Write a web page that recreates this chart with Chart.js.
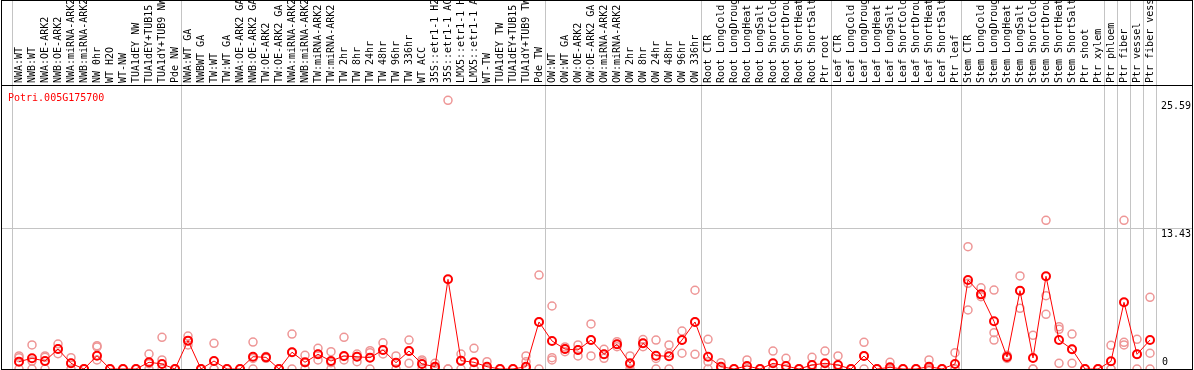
<!DOCTYPE html>
<html>
<head>
<meta charset="utf-8">
<title>Potri.005G175700</title>
<script src="https://cdn.jsdelivr.net/npm/chart.js@4"></script>
<style>
  html, body { margin: 0; padding: 0; background: #fff; }
  #wrap { width: 1194px; height: 370px; position: relative; }
</style>
</head>
<body>
<div id="wrap"><canvas id="chart" width="1194" height="370"></canvas></div>
<script>
// Sample names (x categories)
const samples = [
  'NWA:WT', 'NWB:WT', 'NWA:OE-ARK2', 'NWB:OE-ARK2', 'NWA:miRNA-ARK2', 'NWB:miRNA-ARK2',
  'NW 0hr', 'WT H2O', 'WT-NW', 'TUA1dEY NW', 'TUA1dEY+TUB15 NW', 'TUA1dY+TUB9 NW', 'Pde NW',
  'NWA:WT GA', 'NWBWT GA', 'TW:WT', 'TW:WT GA', 'NWA:OE-ARK2 GA', 'NWB:OE-ARK2 GA',
  'TW:OE-ARK2', 'TW:OE-ARK2 GA', 'NWA:miRNA-ARK2', 'NWB:miRNA-ARK2', 'TW:miRNA-ARK2',
  'TW:miRNA-ARK2', 'TW 2hr', 'TW 8hr', 'TW 24hr', 'TW 48hr', 'TW 96hr', 'TW 336hr', 'WT ACC',
  '35S::etr1-1 H2O', '35S::etr1-1 ACC', 'LMX5::etr1-1 H2O', 'LMX5::etr1-1 ACC', 'WT-TW',
  'TUA1dEY TW', 'TUA1dEY+TUB15 TW', 'TUA1dY+TUB9 TW', 'Pde TW',
  'OW:WT', 'OW:WT GA', 'OW:OE-ARK2', 'OW:OE-ARK2 GA', 'OW:miRNA-ARK2', 'OW:miRNA-ARK2',
  'OW 2hr', 'OW 8hr', 'OW 24hr', 'OW 48hr', 'OW 96hr', 'OW 336hr',
  'Root CTR', 'Root LongCold', 'Root LongDrought', 'Root LongHeat', 'Root LongSalt',
  'Root ShortCold', 'Root ShortDrought', 'Root ShortHeat', 'Root ShortSalt', 'Ptr root',
  'Leaf CTR', 'Leaf LongCold', 'Leaf LongDrought', 'Leaf LongHeat', 'Leaf LongSalt',
  'Leaf ShortCold', 'Leaf ShortDrought', 'Leaf ShortHeat', 'Leaf ShortSalt', 'Ptr leaf',
  'Stem CTR', 'Stem LongCold', 'Stem LongDrought', 'Stem LongHeat', 'Stem LongSalt',
  'Stem ShortCold', 'Stem ShortDrought', 'Stem ShortHeat', 'Stem ShortSalt', 'Ptr shoot',
  'Ptr xylem', 'Ptr phloem', 'Ptr fiber', 'Ptr vessel', 'Ptr fiber vessel'
];

// Mean expression per sample
const meanValues = [
  0.70, 1.02, 0.76, 1.90, 0.54, 0, 1.27, 0, 0, 0, 0.64, 0.48, 0,
  2.70, 0, 0.76, 0, 0, 1.17, 1.11, 0, 1.60, 0.64, 1.40, 0.76, 1.24, 1.17, 1.08, 1.81, 0.60,
  1.71, 0.48, 0.22, 8.54, 0.79, 0.64, 0.22, 0, 0, 0.22, 4.48,
  2.67, 1.90, 1.81, 2.76, 1.40, 2.35, 0.54, 2.45, 1.27, 1.21, 2.76, 4.48,
  1.17, 0.22, 0, 0.29, 0, 0.54, 0.29, 0, 0.38, 0.54,
  0.38, 0, 1.24, 0, 0.16, 0, 0, 0.22, 0, 0.48,
  8.48, 7.11, 4.54, 1.14, 7.46, 1.05, 8.83, 2.76, 1.88, 0,
  0, 0.73, 6.35, 1.40, 2.76
];

// Replicate values (three per sample)
const rep1 = [
  1.24, 2.29, 1.24, 2.38, 1.08, 0, 2.22, 0, 0, 0, 1.43, 3.02, 0,
  3.14, 0, 2.45, 0, 0, 2.57, 1.02, 0, 3.33, 1.30, 1.97, 1.65, 3.02, 1.43, 1.74, 2.50, 1.24,
  2.76, 0.86, 0.54, 25.59, 1.43, 1.97, 0.70, 0, 0, 1.24, 8.95,
  6.00, 1.65, 2.29, 4.29, 1.88, 2.60, 1.24, 2.12, 2.76, 2.29, 3.62, 7.50,
  2.83, 0.60, 0, 0.86, 0, 1.71, 1.02, 0, 1.11, 1.71,
  1.24, 0, 2.54, 0, 0.64, 0, 0, 0.86, 0, 1.55,
  11.65, 7.74, 7.52, 1.30, 8.86, 3.21, 14.16, 4.03, 3.33, 0,
  0, 2.26, 14.16, 2.83, 6.83
];
const rep2 = [
  1.08, 0.76, 1.11, 1.46, 0.54, 0, 2.10, 0, 0, 0, 0.50, 0.86, 0,
  2.29, 0, 0, 0, 0, 1.00, 1.11, 0, 1.60, 0.60, 0.86, 0.60, 0.86, 0.70, 1.55, 1.43, 0.60,
  0.54, 0.70, 0.10, 0, 0.80, 0, 0, 0, 0, 0.70, 4.48,
  1.08, 1.90, 1.24, 1.24, 1.02, 2.12, 0, 2.45, 1.00, 1.50, 1.50, 4.48,
  0.70, 0, 0, 0, 0, 0, 0, 0, 0, 0,
  0, 0, 1.24, 0, 0, 0, 0, 0, 0, 0,
  8.16, 6.89, 3.46, 1.00, 5.78, 0, 6.98, 3.78, 0.54, 0,
  0, 0, 2.54, 0, 1.50
];
const rep3 = [
  0, 0, 0, 1.90, 0, 0, 0.86, 0, 0, 0, 0, 0, 0,
  2.70, 0, 0, 0, 0, 0, 1.20, 0, 0, 0, 1.40, 0, 1.20, 1.20, 0, 1.80, 0,
  1.70, 0, 0, 0, 0, 0, 0, 0, 0, 0, 0,
  0.86, 2.10, 1.80, 2.76, 1.40, 2.35, 0.40, 2.80, 0, 0, 2.76, 1.40,
  0, 0, 0, 0, 0, 0, 0, 0, 0, 0,
  0, 0, 0, 0, 0, 0, 0, 0, 0, 0,
  5.62, 7.11, 2.76, 1.10, 7.46, 0, 5.21, 0.54, 1.88, 0,
  0, 0, 2.29, 1.40, 0
];

// Right-hand tick values and group separators (index of last sample in each group)
const tickValues = [25.59, 13.43, 0];
const groupEnds = [12, 40, 52, 62, 72, 83, 84, 85, 86, 87];
const geneName = 'Potri.005G175700';

const monoFont = '10px "DejaVu Sans Mono", "Liberation Mono", monospace';
const gridGray = '#c4c4c4';
const pink = 'rgb(238,150,150)';

// Plugin that draws the frame, separators, rotated labels and tick text
const decorPlugin = {
  id: 'decor',
  beforeDatasetsDraw(chart) {
    const ctx = chart.ctx;
    const x = chart.scales.x;
    const y = chart.scales.y;
    const area = chart.chartArea;
    const step = x.getPixelForValue(1) - x.getPixelForValue(0);
    ctx.save();
    ctx.strokeStyle = gridGray;
    ctx.lineWidth = 1;
    // left boundary of first sample
    let lines = [x.getPixelForValue(0) - step / 2];
    groupEnds.forEach(function (i) {
      lines.push(x.getPixelForValue(i) + step / 2);
    });
    lines.forEach(function (px) {
      const p = Math.round(px) - 0.5;
      ctx.beginPath();
      ctx.moveTo(p, 0);
      ctx.lineTo(p, area.bottom);
      ctx.stroke();
    });
    // horizontal line at middle tick
    const hy = Math.round(y.getPixelForValue(tickValues[1])) + 0.5;
    ctx.beginPath();
    ctx.moveTo(1, hy);
    ctx.lineTo(1193, hy);
    ctx.stroke();
    ctx.restore();
  },
  afterDraw(chart) {
    const ctx = chart.ctx;
    const x = chart.scales.x;
    const y = chart.scales.y;
    const area = chart.chartArea;
    ctx.save();
    // frame
    ctx.strokeStyle = '#000';
    ctx.lineWidth = 1;
    ctx.strokeRect(1.5, 0.5, 1191, area.bottom);
    ctx.beginPath();
    ctx.moveTo(1, area.top + 0.5);
    ctx.lineTo(1193, area.top + 0.5);
    ctx.stroke();

    // rotated sample labels
    ctx.fillStyle = '#000';
    ctx.font = monoFont;
    ctx.textAlign = 'left';
    ctx.textBaseline = 'middle';
    samples.forEach(function (s, i) {
      ctx.save();
      ctx.translate(Math.round(x.getPixelForValue(i)) + 0.5, area.top - 2);
      ctx.rotate(-Math.PI / 2);
      ctx.fillText(s, 0, 0);
      ctx.restore();
    });

    // tick labels on the right
    tickValues.forEach(function (v) {
      const py = y.getPixelForValue(v);
      if (v === 0) {
        ctx.textBaseline = 'bottom';
        ctx.fillText('0', 1162, py - 2);
      } else {
        ctx.textBaseline = 'top';
        ctx.fillText(v.toFixed(2), 1161, py + 1);
      }
    });

    // gene name
    ctx.fillStyle = '#ff0000';
    ctx.textBaseline = 'top';
    ctx.fillText(geneName, 8, area.top + 8);
    ctx.restore();
  }
};

function repDataset(values) {
  return {
    data: values,
    showLine: false,
    borderColor: pink,
    backgroundColor: 'rgba(0,0,0,0)',
    pointRadius: 4,
    pointBorderWidth: 1.5,
    pointHoverRadius: 4,
    order: 2,
    clip: { left: false, right: false, top: false, bottom: 0 }
  };
}

const ctx = document.getElementById('chart').getContext('2d');
new Chart(ctx, {
  type: 'line',
  data: {
    labels: samples,
    datasets: [
      {
        data: meanValues,
        borderColor: '#ff0000',
        borderWidth: 1,
        backgroundColor: 'rgba(0,0,0,0)',
        pointBorderColor: '#ff0000',
        pointRadius: 4,
        pointBorderWidth: 2,
        tension: 0,
        order: 1,
        clip: { left: false, right: false, top: false, bottom: 0 }
      },
      repDataset(rep1),
      repDataset(rep2),
      repDataset(rep3)
    ]
  },
  options: {
    responsive: false,
    animation: false,
    events: [],
    layout: { autoPadding: false, padding: { left: 12.5, right: 37.5, top: 85, bottom: 1 } },
    plugins: { legend: { display: false }, tooltip: { enabled: false } },
    scales: {
      x: { display: false, offset: true },
      y: { display: false, min: 0, max: 27.05 }
    }
  },
  plugins: [decorPlugin]
});
</script>
</body>
</html>
